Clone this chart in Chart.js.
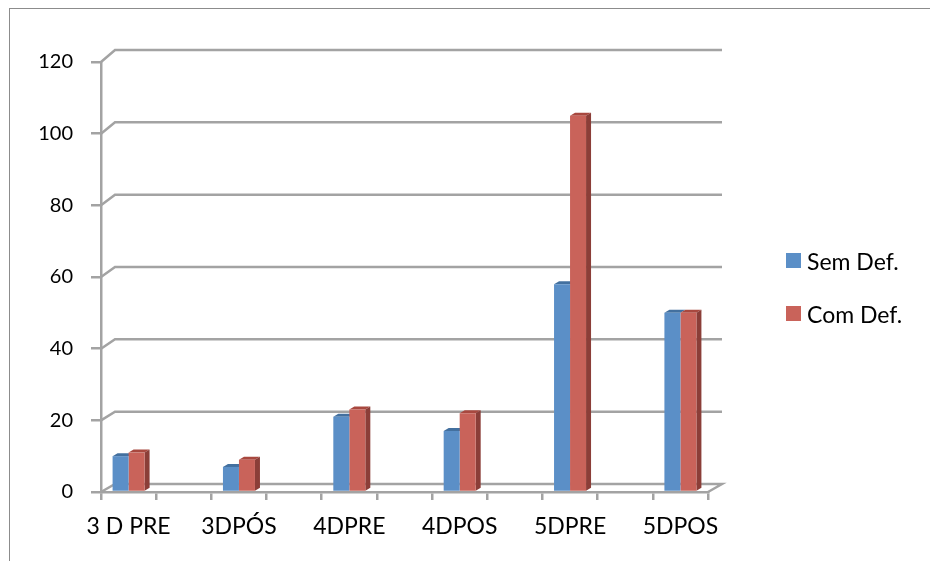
<!DOCTYPE html>
<html>
<head>
<meta charset="utf-8">
<script src="https://cdn.jsdelivr.net/npm/chart.js@4.4.1/dist/chart.umd.min.js"></script>
<style>
  body { margin: 0; background: #fff; }
  #wrap { position: relative; width: 930px; height: 561px; overflow: hidden; background: #fff; }
  #frame { position: absolute; left: 9px; top: 8px; width: 1000px; height: 1000px; border: 1px solid #8c8c8c; }
  #chart { position: absolute; left: 0; top: 0; }
  #legend { position: absolute; left: 786px; top: 253px; font: 23px Lato, sans-serif; color: #000; }
  #legend div { height: 53px; display: flex; align-items: flex-start; }
  #legend span.box { width: 15px; height: 15px; margin-right: 6px; }
  #legend span.txt { line-height: 17px; }
</style>
</head>
<body>
<div id="wrap">
  <div id="frame"></div>
  <canvas id="chart" width="930" height="561"></canvas>
  <div id="legend"></div>
</div>
<script>
const categories = ['3 D PRE', '3DPÓS', '4DPRE', '4DPOS', '5DPRE', '5DPOS'];
const semDef = [10, 7, 21, 17, 58, 50];
const comDef = [11, 9, 23, 22, 105, 50];
const yTicks = [0, 20, 40, 60, 80, 100, 120];

const seriesNames = ['Sem Def.', 'Com Def.'];
const fronts = ['#5B8FC7', '#C9635A'];
const tops = ['#43709F', '#A8483F'];
const sides = ['#3D6592', '#8B3E38'];

// every category gets an empty slot after it, like the sheet's layout
const slots = [];
const spread = arr => {
  const out = [];
  arr.forEach((v, i) => { out.push(v); if (i < arr.length - 1) out.push(null); });
  return out;
};
categories.forEach((c, i) => { slots.push(c); if (i < categories.length - 1) slots.push(''); });

const gridColor = '#a3a3a3';
const WALL_DX = 14;
const wallDy = v => 8 + v / 30;
const BAR_DX = 5, BAR_DY = 3;

const depth = {
  id: 'depth',
  beforeDatasetsDraw(chart) {
    const {ctx, chartArea: a, scales: {y}} = chart;
    ctx.save();
    ctx.strokeStyle = gridColor;
    ctx.lineWidth = 2.5;
    yTicks.forEach(v => {
      const yf = y.getPixelForValue(v);
      const yb = yf - wallDy(v);
      ctx.beginPath();
      ctx.moveTo(a.left, yf);
      ctx.lineTo(a.left + WALL_DX, yb);
      ctx.lineTo(a.right + WALL_DX, yb);
      if (v === 0) ctx.lineTo(a.right, yf);
      ctx.stroke();
    });

    // top and side faces of the columns
    chart.data.datasets.forEach((ds, i) => {
      const meta = chart.getDatasetMeta(i);
      meta.data.forEach((bar, j) => {
        if (ds.data[j] == null) return;
        const {x, y: top, width, base} = bar.getProps(['x', 'y', 'width', 'base'], true);
        const l = x - width / 2, r = x + width / 2;
        ctx.fillStyle = tops[i];
        ctx.beginPath();
        ctx.moveTo(l, top);
        ctx.lineTo(l + BAR_DX, top - BAR_DY);
        ctx.lineTo(r + BAR_DX, top - BAR_DY);
        ctx.lineTo(r, top);
        ctx.closePath();
        ctx.fill();
        if (i === chart.data.datasets.length - 1) {
          ctx.fillStyle = sides[i];
          ctx.beginPath();
          ctx.moveTo(r, top);
          ctx.lineTo(r + BAR_DX, top - BAR_DY);
          ctx.lineTo(r + BAR_DX, base - BAR_DY);
          ctx.lineTo(r, base);
          ctx.closePath();
          ctx.fill();
        }
      });
    });
    ctx.restore();
  }
};

Chart.defaults.font.family = 'Lato, sans-serif';
Chart.defaults.font.size = 20;
Chart.defaults.color = '#000';

new Chart(document.getElementById('chart'), {
  type: 'bar',
  data: {
    labels: slots,
    datasets: [
      {label: seriesNames[0], data: spread(semDef), backgroundColor: fronts[0]},
      {label: seriesNames[1], data: spread(comDef), backgroundColor: fronts[1]}
    ]
  },
  options: {
    responsive: false,
    animation: false,
    devicePixelRatio: 1,
    layout: {padding: {top: 62, right: 222, bottom: 0, left: 0}},
    categoryPercentage: 0.58,
    barPercentage: 1,
    plugins: {legend: {display: false}, tooltip: {enabled: false}},
    scales: {
      x: {
        afterFit: s => { s.height = 69; },
        grid: {drawOnChartArea: false, tickLength: 8, color: gridColor, lineWidth: 2.5},
        border: {color: gridColor, width: 2.5},
        ticks: {autoSkip: false, maxRotation: 0, padding: 13, font: {size: 23}}
      },
      y: {
        min: 0,
        max: 120,
        afterFit: s => { s.width = 101; },
        afterBuildTicks: s => { s.ticks = yTicks.map(v => ({value: v})); },
        grid: {drawOnChartArea: false, tickLength: 10, color: gridColor, lineWidth: 2.5},
        border: {color: gridColor, width: 2.5},
        ticks: {padding: 18, font: {size: 20}}
      }
    }
  },
  plugins: [depth]
});

const legend = document.getElementById('legend');
seriesNames.forEach((name, i) => {
  const row = document.createElement('div');
  row.innerHTML = '<span class="box" style="background:' + fronts[i] + '"></span><span class="txt">' + name + '</span>';
  legend.appendChild(row);
});
</script>
</body>
</html>
